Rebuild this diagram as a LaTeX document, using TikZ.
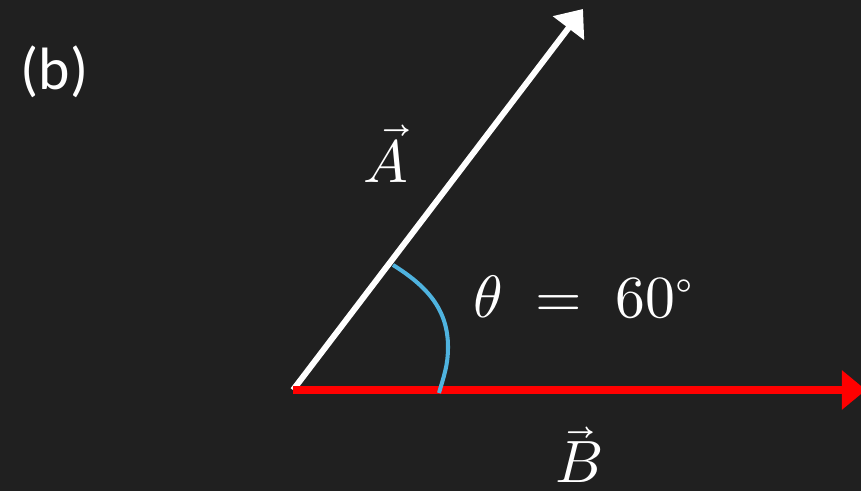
\documentclass[tikz,border=0pt]{standalone}
\usepackage{fontspec}
\usepackage{unicode-math}
\newfontfamily\labelfont{Carlito}
\usetikzlibrary{arrows.meta}
\definecolor{board-dark}{HTML}{202020}
\definecolor{vec-red}{HTML}{FF0000}
\definecolor{arc-blue}{HTML}{4FB3DF}
\tikzset{
  vecline/.style={line width=3.4pt,-{Triangle[length=13.7pt,width=21.6pt]}},
  mathlbl/.style={text=white,font=\fontsize{34}{40}\selectfont,inner sep=0pt}
}

\begin{document}
\begin{tikzpicture}
  % Tavle-baggrund
  \fill[board-dark] (0,0) rectangle (17.22,9.82);
  \useasboundingbox (0,0) rectangle (17.22,9.82);
  \clip (0,0) rectangle (17.22,9.82);
  % Faelles startpunkt og vektorspidser
  \coordinate (O) at (5.86,2.02);
  \coordinate (Atip) at (11.66,9.64);
  \coordinate (Btip) at (17.32,2.02);
  % Vinkelbue punkter
  \coordinate (arcS) at (7.86,4.52);
  \coordinate (arcM) at (8.96,2.88);
  \coordinate (arcE) at (8.78,1.96);

  % Vektor A og vektor B
  \draw[vecline,white] (O) -- (Atip);
  \draw[vecline,vec-red,line width=4pt] (O) -- (Btip);
  % Vinklen theta
  \draw[arc-blue,line width=2.3pt] (arcS) to[out=-32,in=90] (arcM) to[out=-90,in=74] (arcE);
  % Tekster
  \node[text=white,font=\labelfont\fontsize{34}{40}\selectfont] (panel) at (1.09,8.39) {(b)};
  \node[mathlbl,anchor=base] (labelA) at (7.72,6.16) {$\vec{A}$};
  \node[mathlbl,anchor=base] (labelTheta) at (11.67,3.46) {$\theta \;=\; 60^{\circ}$};
  \node[mathlbl,anchor=base] (labelB) at (11.58,0.16) {$\vec{B}$};
\end{tikzpicture}
\end{document}
